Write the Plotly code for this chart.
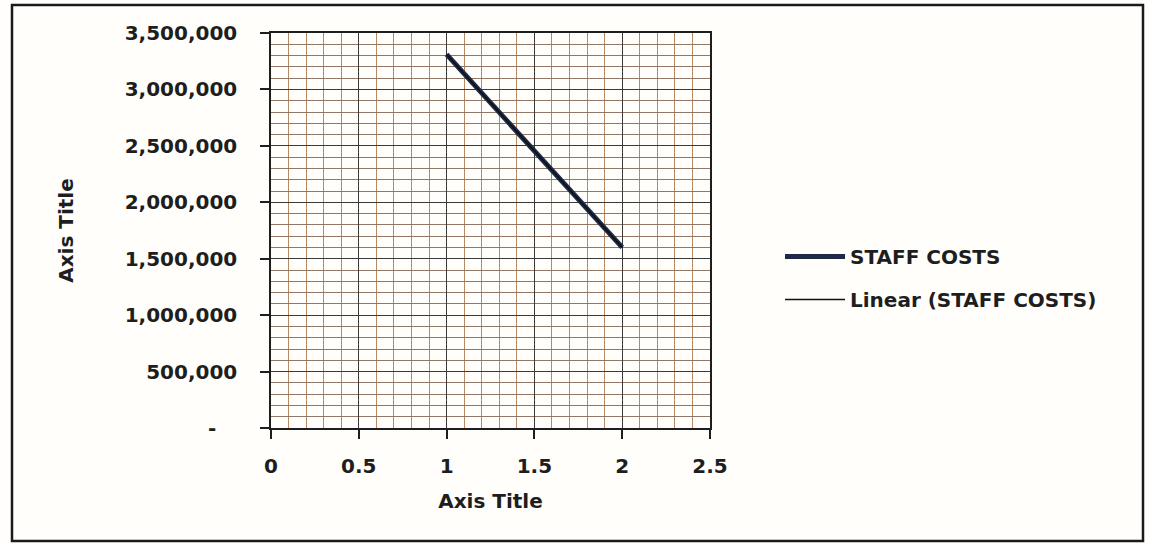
import numpy as np
import plotly.graph_objects as go

# ---- data ----
x_vals = [1, 2]
staff_costs = [3310000, 1600000]
y_tick_vals = [0, 500000, 1000000, 1500000, 2000000, 2500000, 3000000, 3500000]
y_tick_text = ["-\u00a0\u00a0\u00a0", "500,000", "1,000,000", "1,500,000", "2,000,000",
               "2,500,000", "3,000,000", "3,500,000"]
x_tick_vals = [0, 0.5, 1, 1.5, 2, 2.5]
x_tick_text = ["0", "0.5", "1", "1.5", "2", "2.5"]
series_name = "STAFF COSTS"
trend_name = "Linear (STAFF COSTS)"
axis_title = "Axis Title"

# linear trendline fitted from the data
coef = np.polyfit(x_vals, staff_costs, 1)
trend_y = list(np.polyval(coef, x_vals))

FONT = "DejaVu Sans"
INK = "#1e1e1e"
FS = 20

fig = go.Figure()
fig.add_trace(go.Scatter(
    x=x_vals, y=staff_costs, mode="lines", name=series_name,
    line=dict(color="#1d2a48", width=5), legendgroup="a"))
fig.add_trace(go.Scatter(
    x=x_vals, y=trend_y, mode="lines", name=trend_name,
    line=dict(color="#111111", width=1.5), legendgroup="b"))

L, R, T, B = 271, 439, 33, 115
W, H = 1149, 543
pw, ph = W - L - R, H - T - B

axis_common = dict(
    showline=True, linecolor=INK, linewidth=1.5, mirror=True,
    ticks="outside", ticklen=9, tickcolor=INK, tickwidth=1.5,
    showgrid=True, gridcolor="#3a3a3a", gridwidth=1.3,
    zeroline=False,
    tickfont=dict(family=FONT, size=FS, color=INK, weight="bold"),
    title_font=dict(family=FONT, size=FS, color=INK, weight="bold"),
)

fig.update_xaxes(
    range=[0, 2.5], tickmode="array", tickvals=x_tick_vals, ticktext=x_tick_text,
    minor=dict(dtick=0.1, tick0=0, showgrid=True, gridcolor="#b98a62", gridwidth=1, ticks=""),
    title=dict(text=axis_title, standoff=17),
    ticklabelstandoff=10, **axis_common)
fig.update_yaxes(
    range=[0, 3500000], tickmode="array", tickvals=y_tick_vals, ticktext=y_tick_text,
    minor=dict(dtick=100000, tick0=0, showgrid=True, gridcolor="#8f7868", gridwidth=1, ticks=""),
    title=dict(text=axis_title, standoff=46),
    ticklabelstandoff=19, **axis_common)

# outer chart border
fig.add_shape(type="rect", xref="paper", yref="paper",
              x0=(12 - L) / pw, x1=(1143 - L) / pw,
              y0=(H - B - 541) / ph, y1=(H - B - 5) / ph,
              line=dict(color="#1a1a1a", width=2.5), fillcolor="rgba(0,0,0,0)", layer="below")

fig.update_layout(
    width=W, height=H,
    margin=dict(l=L, r=R, t=T, b=B, autoexpand=False),
    paper_bgcolor="#fffefb", plot_bgcolor="#fffefb",
    showlegend=True,
    legend=dict(x=(780 - L) / pw, y=(H - B - 237) / ph, xanchor="left", yanchor="top",
                font=dict(family=FONT, size=FS, color=INK, weight="bold"),
                bgcolor="rgba(0,0,0,0)", traceorder="grouped", tracegroupgap=14,
                itemwidth=60),
)

fig.write_html("out.html")
